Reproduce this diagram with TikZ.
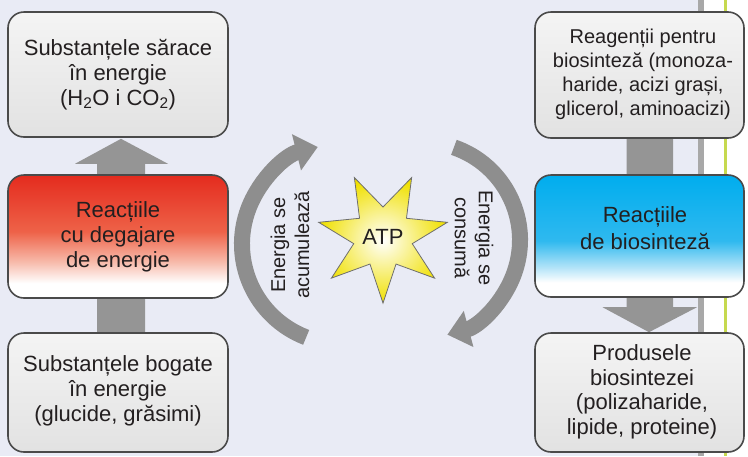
\documentclass[tikz,border=0pt]{standalone}
\usepackage{fontspec}
\setmainfont{Liberation Sans}
\usetikzlibrary{shapes.geometric,arrows.meta,calc}
\definecolor{bgc}{HTML}{E9EBF5}
\definecolor{sepgray}{HTML}{A8A8A8}
\definecolor{sepgreen}{HTML}{C6D94F}
\definecolor{boxline}{HTML}{4A4A4A}
\definecolor{gtop}{HTML}{F4F4F4}
\definecolor{gbot}{HTML}{E2E2E2}
\definecolor{rtop}{HTML}{E42B1E}
\definecolor{rmid}{HTML}{EE6248}
\definecolor{rlow}{HTML}{F7B8A8}
\definecolor{btop}{HTML}{00ADEE}
\definecolor{bmid}{HTML}{2FB9EF}
\definecolor{blow}{HTML}{B4E4F8}
\definecolor{arrg}{HTML}{959595}
\definecolor{arcg}{HTML}{8E8E8E}
\definecolor{stary}{HTML}{F0E000}
\definecolor{txt}{HTML}{231F20}
\pgfdeclareverticalshading{redsh}{100bp}{color(0bp)=(white); color(25bp)=(white); color(31bp)=(white); color(40bp)=(rlow); color(52bp)=(rmid); color(75bp)=(rtop); color(100bp)=(rtop)}
\pgfdeclareverticalshading{bluesh}{100bp}{color(0bp)=(white); color(25bp)=(white); color(31bp)=(white); color(37bp)=(blow); color(48bp)=(bmid); color(75bp)=(btop); color(100bp)=(btop)}
\pgfdeclareverticalshading{graysh}{100bp}{color(0bp)=(gbot); color(25bp)=(gbot); color(75bp)=(gtop); color(100bp)=(gtop)}
\pgfdeclarelayer{back}
\pgfdeclarelayer{mid}
\pgfsetlayers{back,mid,main}
\begin{document}
\begin{tikzpicture}[x=1pt,y=-1pt,
  boxbase/.style={draw=boxline, line width=1.6pt, rounded corners=16pt, inner sep=0pt, text=txt, align=center},
  gbox/.style={boxbase, shading=graysh},
  rbox/.style={boxbase, shading=redsh},
  bbox/.style={boxbase, shading=bluesh},
  bigtxt/.style={font=\fontsize{22}{25}\selectfont},
  midtxt/.style={font=\fontsize{20}{24}\selectfont},
  label/.style={text=txt, align=center, inner sep=0pt},
  blockarrow/.style={fill=arrg, draw=none},
  arcarrow/.style={draw=arcg, line width=16pt, -{Triangle[length=22pt,width=36pt]}}
]
\useasboundingbox (0,0) rectangle (748,456);

% left column
\node[gbox, bigtxt, minimum width=220pt, minimum height=125pt] (b1) at (118,74.5)
  {Substanțele sărace\\în energie\\(H\textsubscript{2}O i CO\textsubscript{2})};
\node[rbox, bigtxt, minimum width=220pt, minimum height=123pt] (b2) at (118,236.5)
  {Reacțiile\\cu degajare\\de energie};
\node[gbox, minimum width=220pt, minimum height=119pt] (b3) at (118,392.5) {};
\node[label, bigtxt] (t3) at (118,391) {Substanțele bogate\\în energie\\(glucide, grăsimi)};

% right column
\node[gbox, minimum width=209pt, minimum height=126pt] (b4) at (639.5,75) {};
\node[label, midtxt] (t4) at (643,74) {Reagenții pentru\\biosinteză (monoza-\\haride, acizi grași,\\glicerol, aminoacizi)};
\node[bbox, minimum width=209pt, minimum height=122pt] (b5) at (639.5,236) {};
\node[label, font=\fontsize{22}{27}\selectfont] (t5) at (645,228.5) {Reacțiile\\de biosinteză};
\node[gbox, minimum width=209pt, minimum height=119pt] (b6) at (639.5,392.5) {};
\node[label, font=\fontsize{22}{24.5}\selectfont] (t6) at (642,392) {Produsele\\biosintezei\\(polizaharide,\\lipide, proteine)};

% star
\node[star, star points=7, star point ratio=2.2, minimum size=132pt, inner sep=0pt,
  shape border rotate=180, draw=boxline!80, line width=0.8pt,
  shading=radial, inner color=white, outer color=stary, text=txt, bigtxt] (atp) at (383,237) {ATP};

% rotated labels
\node[label, midtxt, rotate=90] (la) at (290,245) {Energia se\\acumulează};
\node[label, midtxt, rotate=-90] (lc) at (474,238) {Energia se\\consumă};

\coordinate (cl) at (342,244);
\coordinate (cr) at (422,240);

\begin{pgfonlayer}{back}
  \fill[bgc] (0,0) rectangle (698,456);
  \fill[white] (698,0) rectangle (748,456);
  \fill[sepgray] (698,0) rectangle (704,456);
  \fill[sepgreen] (723.5,0) rectangle (727,456);
\end{pgfonlayer}

\begin{pgfonlayer}{mid}
  % up arrow from b3 through b2 to b1
  \fill[blockarrow]
    ($(b3.north)+(-21,4)$) -- ($(b1.south)+(-21,26)$) -- ($(b1.south)+(-43,26)$)
    -- ($(b1.south)+(3,1)$) -- ($(b1.south)+(50,26)$) -- ($(b1.south)+(27,26)$)
    -- ($(b3.north)+(27,4)$) -- cycle;
  % down arrow from b4 through b5 to b6
  \fill[blockarrow]
    ($(b4.south)+(-13,-4)$) -- ($(b6.north)+(-13,-25)$) -- ($(b6.north)+(-37,-25)$)
    -- ($(b6.north)+(9.5,0)$) -- ($(b6.north)+(57.5,-25)$) -- ($(b6.north)+(33.5,-25)$)
    -- ($(b4.south)+(33.5,-4)$) -- cycle;
\end{pgfonlayer}

% curved arrows
\draw[arcarrow] ([shift={(111:100)}]cl) arc[start angle=111, end angle=256, radius=100];
\draw[arcarrow] ([shift={(-71:98)}]cr) arc[start angle=-71, end angle=75, radius=98];
\end{tikzpicture}
\end{document}
